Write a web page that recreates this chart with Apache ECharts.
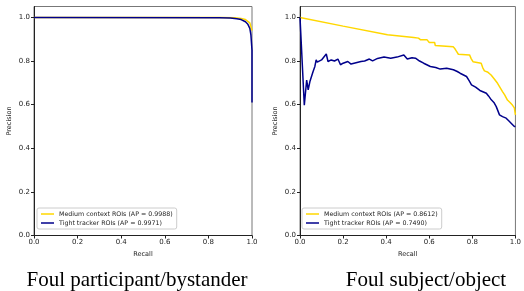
<!DOCTYPE html>
<html><head><meta charset="utf-8">
<script src="https://cdn.jsdelivr.net/npm/echarts@6/dist/echarts.min.js"></script>
<style>html,body{margin:0;padding:0;background:#fff}#c{width:524px;height:291px}</style>
</head><body><div id="c"></div>
<script>
const tickValues = [0, 0.2, 0.4, 0.6, 0.8, 1.0];
const leftTitle = "Foul participant/bystander";
const rightTitle = "Foul subject/object";
const leftMediumName = "Medium context ROIs (AP = 0.9988)";
const leftTightName = "Tight tracker ROIs (AP = 0.9971)";
const rightMediumName = "Medium context ROIs (AP = 0.8612)";
const rightTightName = "Tight tracker ROIs (AP = 0.7490)";
const leftMedium = [[0,1.0],[0.85,1.0],[0.92,0.998],[0.95,0.995],[0.97,0.99],[0.99,0.975],[1.0,0.94]];
const leftTight = [[0,0.999],[0.85,0.998],[0.9,0.997],[0.93,0.994],[0.95,0.99],[0.97,0.98],[0.98,0.97],[0.99,0.95],[0.995,0.92],[1.0,0.85],[1.0,0.61]];
const rightMedium = [[0,1.0],[0.2,0.96],[0.406,0.92],[0.528,0.908],[0.55,0.905],[0.56,0.897],[0.59,0.897],[0.6,0.885],[0.625,0.885],[0.628,0.871],[0.711,0.866],[0.72,0.855],[0.726,0.845],[0.735,0.831],[0.787,0.828],[0.795,0.81],[0.803,0.797],[0.841,0.79],[0.848,0.77],[0.856,0.755],[0.87,0.75],[0.887,0.736],[0.9,0.72],[0.917,0.698],[0.925,0.69],[0.94,0.66],[0.95,0.645],[0.963,0.621],[0.975,0.61],[0.986,0.598],[0.995,0.585],[1.0,0.553]];
const rightTight = [[0,1.0],[0.02,0.597],[0.031,0.713],[0.038,0.668],[0.046,0.706],[0.06,0.75],[0.069,0.775],[0.075,0.805],[0.08,0.795],[0.087,0.787],[0.1,0.805],[0.122,0.832],[0.13,0.798],[0.145,0.805],[0.16,0.8],[0.176,0.809],[0.188,0.783],[0.2,0.79],[0.222,0.798],[0.237,0.786],[0.26,0.792],[0.283,0.798],[0.3,0.8],[0.322,0.809],[0.337,0.801],[0.36,0.812],[0.39,0.818],[0.421,0.813],[0.45,0.818],[0.482,0.828],[0.498,0.809],[0.52,0.815],[0.536,0.813],[0.555,0.8],[0.574,0.79],[0.605,0.775],[0.63,0.77],[0.651,0.763],[0.681,0.767],[0.712,0.76],[0.73,0.752],[0.743,0.744],[0.773,0.729],[0.785,0.71],[0.796,0.691],[0.815,0.68],[0.835,0.665],[0.865,0.652],[0.875,0.64],[0.888,0.622],[0.9,0.61],[0.911,0.591],[0.926,0.553],[0.94,0.545],[0.957,0.538],[0.97,0.525],[0.98,0.515],[0.995,0.5],[1.0,0.5]];

const YELLOW = '#FFD700', BLUE = '#00008B';
const font = 'DejaVu Sans';
function xAx(i){return {type:'value',gridIndex:i,min:0,max:1,interval:0.2,name:'Recall',nameLocation:'middle',nameGap:13,
  nameTextStyle:{fontFamily:font,fontSize:6.5,color:'#222'},
  axisLine:{lineStyle:{color:'#222',width:1}},axisTick:{length:3,lineStyle:{color:'#222'},customValues:tickValues},
  axisLabel:{fontFamily:font,fontSize:7,color:'#222',margin:3,formatter:v=>v.toFixed(1),customValues:tickValues},splitLine:{show:false}};}
function yAx(i){return {type:'value',gridIndex:i,min:0,max:1.05,interval:0.2,name:'Precision',nameLocation:'middle',nameGap:21,
  nameTextStyle:{fontFamily:font,fontSize:6.5,color:'#222'},
  axisLine:{lineStyle:{color:'#222',width:1}},axisTick:{length:3,lineStyle:{color:'#222'},customValues:tickValues},
  axisLabel:{fontFamily:font,fontSize:7,color:'#222',margin:4,formatter:v=>v.toFixed(1),customValues:tickValues},splitLine:{show:false}};}
function ser(name,data,color,i,z){return {type:'line',name:name,data:data,xAxisIndex:i,yAxisIndex:i,showSymbol:false,symbol:'none',
  lineStyle:{color:color,width:1.5},itemStyle:{color:color},z:z,animation:false};}
function leg(x,names){return {left:x,top:208,orient:'vertical',data:names,icon:'rect',itemWidth:13,itemHeight:1.5,itemGap:3,
  padding:[3,4,3,4],backgroundColor:'#fff',borderColor:'#ccc',borderWidth:1,borderRadius:2,
  textStyle:{fontFamily:font,fontSize:6.3,color:'#222',padding:[0,0,0,0]},selectedMode:false};}
const chart = echarts.init(document.getElementById('c'),null,{renderer:'canvas'});
chart.setOption({
  animation:false,
  grid:[{left:34,top:6.5,width:218,height:229,show:true,borderColor:'#777',borderWidth:1,backgroundColor:'transparent'},
        {left:300,top:6.5,width:218,height:229,show:true,borderColor:'#777',borderWidth:1,backgroundColor:'transparent'}],
  xAxis:[xAx(0),xAx(1)],
  yAxis:[yAx(0),yAx(1)],
  legend:[leg(37,[leftMediumName,leftTightName]),leg(302,[rightMediumName,rightTightName])],
  title:[{text:leftTitle,left:137,top:270,padding:0,textAlign:'center',textStyle:{fontFamily:'Liberation Serif',fontSize:21,fontWeight:'normal',color:'#000'}},
         {text:rightTitle,left:426,top:270,padding:0,textAlign:'center',textStyle:{fontFamily:'Liberation Serif',fontSize:21,fontWeight:'normal',color:'#000'}}],
  series:[ser(leftMediumName,leftMedium,YELLOW,0,2),ser(leftTightName,leftTight,BLUE,0,3),
          ser(rightMediumName,rightMedium,YELLOW,1,2),ser(rightTightName,rightTight,BLUE,1,3)]
});
</script></body></html>
